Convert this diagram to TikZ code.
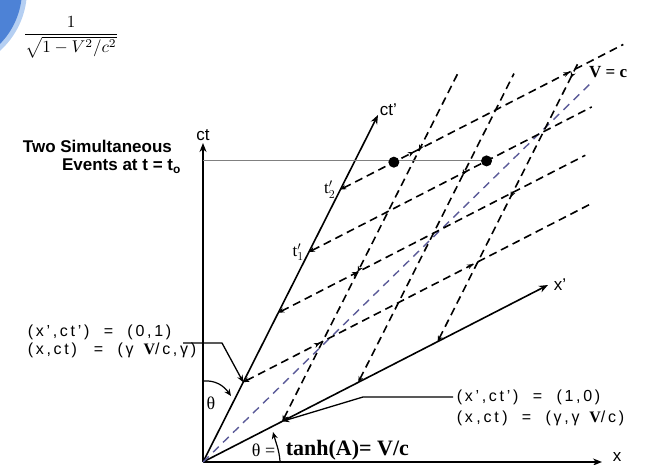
\documentclass[tikz,border=0pt]{standalone}
\usepackage{fontspec}
\setmainfont{Liberation Serif}
\setsansfont{Liberation Sans}
\newfontfamily\spacedsf[LetterSpace=17]{Liberation Sans}
\newcommand\bigV{\textrm{\bfseries V}}
\definecolor{STBlue}{HTML}{4D82D6}
\definecolor{STLight}{HTML}{B5CFF2}
\definecolor{STLine}{HTML}{5A5A98}
\usetikzlibrary{positioning,arrows.meta,calc,decorations.markings}

\begin{document}
\begin{tikzpicture}[x=1pt, y=-1pt, line width=1.6pt,
    axis/.style={-{Stealth[length=9pt,width=7pt]}},
    gridline/.style={dash pattern=on 8pt off 5pt, {Stealth[length=6pt,width=5pt]}-},
    light/.style={STLine, line width=1.4pt, dash pattern=on 8pt off 6pt},
    mid/.style={postaction={decorate, decoration={markings, mark=at position #1 with {\arrow{Stealth[length=6pt,width=5pt]}}}}},
    midr/.style={postaction={decorate, decoration={markings, mark=at position #1 with {\arrowreversed{Stealth[length=6pt,width=5pt]}}}}},
    coordlbl/.style={font=\spacedsf\fontsize{16}{20}\selectfont, inner sep=0pt, anchor=west},
    axlbl/.style={font=\sffamily\fontsize{17}{20}\selectfont, inner sep=1pt}]
  \useasboundingbox (0,0) rectangle (647,465);
  % slide corner
  \begin{scope}
    \clip (0,0) rectangle (647,465);
    \fill[STLight] (-55,-10) circle (82pt);
    \fill[STBlue] (-55,-10) circle (77pt);
  \end{scope}
  \node (gam) at (71,37) {\scalebox{1.7}{$\displaystyle\frac{1}{\sqrt{1-V^2/c^2}}$}};

  % axes
  \coordinate (O) at (203,462);
  \coordinate (T) at (203,143);
  \coordinate (X) at (602,462);
  \coordinate (Tp) at (378,115);
  \coordinate (Xp) at (548,285);
  \coordinate (C) at (592,82);
  \coordinate (u) at (345,-177);
  \coordinate (w) at (175,-347);
  \draw[axis] (O) -- (T);
  \draw[axis] (O) -- (X);
  \draw[axis] (O) -- (Tp);
  \draw[axis] (O) -- (Xp);
  \draw[light] (O) -- (C);
  \node[axlbl, above=1pt of T] (ctl) {ct};
  \node[axlbl, inner sep=0pt] (xl) at (617,457) {x};
  \node[axlbl, above right=-2pt and 0pt of Tp] (ctpl) {ct’};
  \node[axlbl, right=4pt of Xp] (xpl) {x’};
  \node[anchor=west, font=\bfseries\fontsize{17}{20}\selectfont] (vc) at (585,72) {V = c};

  % lines of constant t' and x'
  \foreach \n/\f/\s in {1/0.23/1.01, 2/0.43/0.89, 3/0.605/0.82, 4/0.785/0.82} {
    \coordinate (P\n) at ($(O)!\f!(Tp)$);
    \coordinate (E\n) at ($(P\n)+\s*(u)$);
  }
  \foreach \n/\f/\s in {1/0.23/1.0, 2/0.45/0.89, 3/0.68/0.80} {
    \coordinate (Q\n) at ($(O)!\f!(Xp)$);
    \coordinate (F\n) at ($(Q\n)+\s*(w)$);
  }
  \draw[gridline, mid=0.22, mid=0.66] (P1) -- (E1);
  \draw[gridline, mid=0.26] (P2) -- (E2);
  \draw[gridline] (P3) -- (E3);
  \draw[gridline, mid=0.26, mid=0.81] (P4) -- (E4);
  \draw[gridline, midr=0.43, midr=0.78] (Q1) -- (F1);
  \draw[gridline, midr=0.67] (Q2) -- (F2);
  \draw[gridline, midr=0.52, midr=0.95] (Q3) -- (F3);
  \node[font=\fontsize{17}{20}\selectfont, left=1pt of P4] (t2) {t$'_2$};
  \node[font=\fontsize{17}{20}\selectfont, left=1pt of P3] (t1) {t$'_1$};

  % simultaneous events
  \coordinate (D1) at ($(P4)+0.155*(u)$);
  \coordinate (D2) at ($(P3)+0.515*(u)$);
  \draw[gray, line width=0.9pt] (O |- D2) -- (D2);
  \fill (D1) circle (5.5pt);
  \fill (D2) circle (5.5pt);
  \node[font=\sffamily\bfseries\fontsize{17}{18}\selectfont, anchor=east] (ev1) at (176,146) {Two Simultaneous};
  \node[font=\sffamily\bfseries\fontsize{17}{18}\selectfont, anchor=east] (ev2) at (185,166) {Events at t = t\textsubscript{o}};

  % angles
  \coordinate (A1) at (203,381);
  \coordinate (A2) at (231,396);
  \draw[line width=1.2pt, -{Stealth[length=7pt,width=6pt]}] (A1) to[out=5,in=125] (A2);
  \node[font=\fontsize{18}{20}\selectfont] (th1) at (211,403) {θ};
  \coordinate (B1) at (280,461);
  \coordinate (B2) at (273,432);
  \draw[line width=1.2pt, -{Stealth[length=7pt,width=6pt]}] (B1) to[out=95,in=-75] (B2);
  \node[font=\fontsize{18}{20}\selectfont, anchor=east, inner sep=0pt] (th2) at (276,450) {θ =};
  \node[font=\bfseries\fontsize{22}{22}\selectfont, anchor=west, inner sep=0pt] (tanh) at (285,450) {tanh(A)= V/c};

  % event annotations
  \node[coordlbl] (ev01) at (27,332) {(x’,ct’)\ \ =\ \ (0,1)};
  \node[coordlbl] (ev01b) at (27,350) {(x,ct)\ \ \,=\ \ (γ \bigV/c,γ)};
  \coordinate (L1) at (183,343);
  \coordinate (L2) at (222,343);
  \draw[line width=1.3pt, -{Stealth[length=7pt,width=6pt]}] (L1) -- (L2) -- (P1);
  \node[coordlbl] (ev10) at (456,397) {(x’,ct’)\ \ =\ \ (1,0)};
  \node[coordlbl] (ev10b) at (456,418) {(x\phantom{’},ct\phantom{’})\ \ =\ \ (γ,\,γ \bigV/c)};
  \coordinate (R1) at (453,397);
  \coordinate (R2) at (363,397);
  \draw[line width=1.3pt, -{Stealth[length=7pt,width=6pt]}] (R1) -- (R2) -- (Q1);
\end{tikzpicture}
\end{document}
